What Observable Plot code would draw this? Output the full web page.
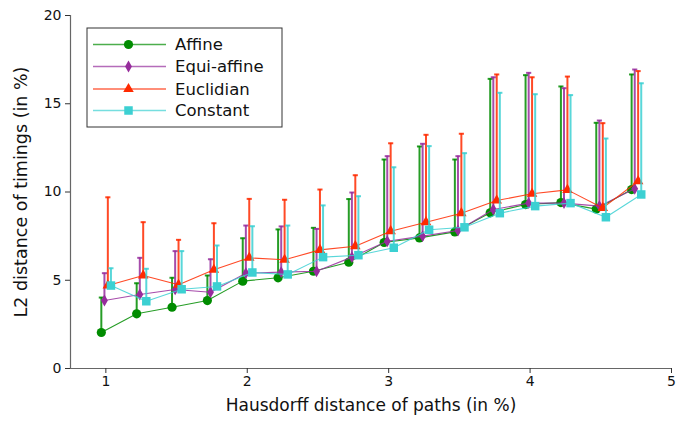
<!DOCTYPE html>
<html>
<head>
<meta charset="utf-8">
<script src="https://cdn.jsdelivr.net/npm/d3@7"></script>
<script src="https://cdn.jsdelivr.net/npm/@observablehq/plot@0.6"></script>
<style>
  html, body { margin: 0; padding: 0; background: #fff; }
  #chart { width: 676px; height: 427px; }
</style>
</head>
<body>
<div id="chart"></div>
<script>
// ---- data ----
const hausdorff = [1, 1.25, 1.5, 1.75, 2, 2.25, 2.5, 2.75, 3, 3.25, 3.5, 3.75, 4, 4.25, 4.5, 4.75];
const xTicks = [1, 2, 3, 4, 5];
const yTicks = [0, 5, 10, 15, 20];

const affine     = [2.04, 3.10, 3.47, 3.85, 4.95, 5.14, 5.51, 6.02, 7.14, 7.40, 7.74, 8.82, 9.29, 9.40, 9.03, 10.14];
const affineUp   = [4.02, 4.83, 5.14, 5.27, 7.38, 7.88, 7.97, 9.60, 11.84, 12.58, 11.84, 16.41, 16.62, 15.98, 13.92, 16.66];
const equiAffine   = [3.85, 4.19, 4.48, 4.32, 5.40, 5.46, 5.51, 6.31, 7.21, 7.50, 7.82, 9.01, 9.37, 9.37, 9.20, 10.18];
const equiAffineUp = [5.40, 6.27, 6.65, 6.19, 8.10, 8.05, 7.91, 9.97, 12.03, 12.73, 12.03, 16.50, 16.75, 15.88, 14.05, 16.94];
const euclidian   = [4.70, 5.27, 4.74, 5.59, 6.27, 6.16, 6.72, 6.93, 7.78, 8.29, 8.80, 9.52, 9.90, 10.12, 9.10, 10.61];
const euclidianUp = [9.70, 8.29, 7.29, 8.23, 9.61, 9.56, 10.14, 10.95, 12.76, 13.24, 13.30, 16.66, 16.50, 16.54, 13.90, 16.85];
const constant   = [4.70, 3.81, 4.49, 4.65, 5.44, 5.33, 6.31, 6.42, 6.84, 7.86, 8.00, 8.80, 9.20, 9.37, 8.57, 9.86];
const constantUp = [5.68, 5.65, 6.65, 6.97, 8.06, 8.10, 9.24, 9.76, 11.40, 12.60, 12.20, 15.62, 15.54, 15.49, 13.03, 16.16];

const seriesNames = ["Affine", "Equi-affine", "Euclidian", "Constant"];

// ---- styles ----
const styles = {
  "Affine":      {color: "#008c00", symbol: "circle",   r: 4.6, dx: -0.032},
  "Equi-affine": {color: "#962d9c", symbol: "diamond",  r: 3.6, dx: -0.010},
  "Euclidian":   {color: "#ff2a00", symbol: "triangle", r: 3.9, dx: 0.014},
  "Constant":    {color: "#3cd0d2", symbol: "square",   r: 4.8, dx: 0.036}
};

const values = [affine, equiAffine, euclidian, constant];
const uppers = [affineUp, equiAffineUp, euclidianUp, constantUp];

const capSymbol = {
  draw(context, size) {
    const w = Math.sqrt(size) / 2;
    context.moveTo(-w, 0);
    context.lineTo(w, 0);
  }
};

const marks = [];
// axis lines
marks.push(Plot.ruleY([0], {stroke: "#666", strokeWidth: 1.2}));
marks.push(Plot.ruleX([0.75], {stroke: "#666", strokeWidth: 1.2}));
marks.push(Plot.axisX(xTicks, {tickSize: 5, tickPadding: 3, fontSize: 14, stroke: "#333", fill: "#111", label: null, tickFormat: d => String(d)}));
marks.push(Plot.axisY(yTicks, {tickSize: 5, tickPadding: 4, fontSize: 14, stroke: "#333", fill: "#111", label: null, tickFormat: d => String(d)}));
marks.push(Plot.text(["L2 distance of timings (in %)"], {frameAnchor: "left", textAnchor: "middle", dx: -49, rotate: -90, fontSize: 17.5, fill: "#111"}));
marks.push(Plot.text(["Hausdorff distance of paths (in %)"], {frameAnchor: "bottom", textAnchor: "middle", dy: 42, fontSize: 17, fill: "#111"}));

seriesNames.forEach((name, i) => {
  const st = styles[name];
  const rows = hausdorff.map((h, j) => ({x: h + st.dx, y: values[i][j], up: uppers[i][j]}));
  marks.push(Plot.line(rows, {x: "x", y: "y", stroke: st.color, strokeWidth: 1.1, strokeOpacity: 0.85}));
  marks.push(Plot.ruleX(rows, {x: "x", y1: "y", y2: "up", stroke: st.color, strokeWidth: 2, strokeOpacity: 0.85}));
  marks.push(Plot.dot(rows, {x: "x", y: "up", symbol: capSymbol, r: 2.9, stroke: st.color, strokeWidth: 2, strokeOpacity: 0.85}));
  marks.push(Plot.dot(rows, {x: "x", y: "y", symbol: st.symbol, r: st.r, fill: st.color, stroke: "none"}));
});

const plot = Plot.plot({
  width: 676,
  height: 427,
  marginLeft: 70,
  marginRight: 5,
  marginTop: 15,
  marginBottom: 59,
  style: {fontFamily: "'DejaVu Sans', Verdana, sans-serif", background: "#fff"},
  x: {domain: [0.75, 5]},
  y: {domain: [0, 20]},
  marks
});

// legend drawn into the same svg
const svg = d3.select(plot);
const lg = svg.append("g").attr("transform", "translate(87,28)");
lg.append("rect").attr("width", 195).attr("height", 99)
  .attr("fill", "#fff").attr("stroke", "#333").attr("stroke-width", 1);
const symbolMap = {circle: d3.symbolCircle, diamond: d3.symbolDiamond, triangle: d3.symbolTriangle, square: d3.symbolSquare};
const rowY = [16.5, 38.5, 61, 82.5];
seriesNames.forEach((name, i) => {
  const st = styles[name];
  const g = lg.append("g").attr("transform", `translate(0,${rowY[i]})`);
  g.append("line").attr("x1", 6).attr("x2", 79).attr("y1", 0).attr("y2", 0)
    .attr("stroke", st.color).attr("stroke-width", 1.3).attr("stroke-opacity", 0.7);
  g.append("path").attr("transform", "translate(41.5,0)")
    .attr("d", d3.symbol(symbolMap[st.symbol], Math.PI * st.r * st.r)())
    .attr("fill", st.color);
  g.append("text").attr("x", 88).attr("y", 0).attr("dy", "0.35em")
    .attr("text-anchor", "start")
    .attr("font-size", 16.5).attr("fill", "#111").text(name);
});

document.getElementById("chart").appendChild(plot);
</script>
</body>
</html>
